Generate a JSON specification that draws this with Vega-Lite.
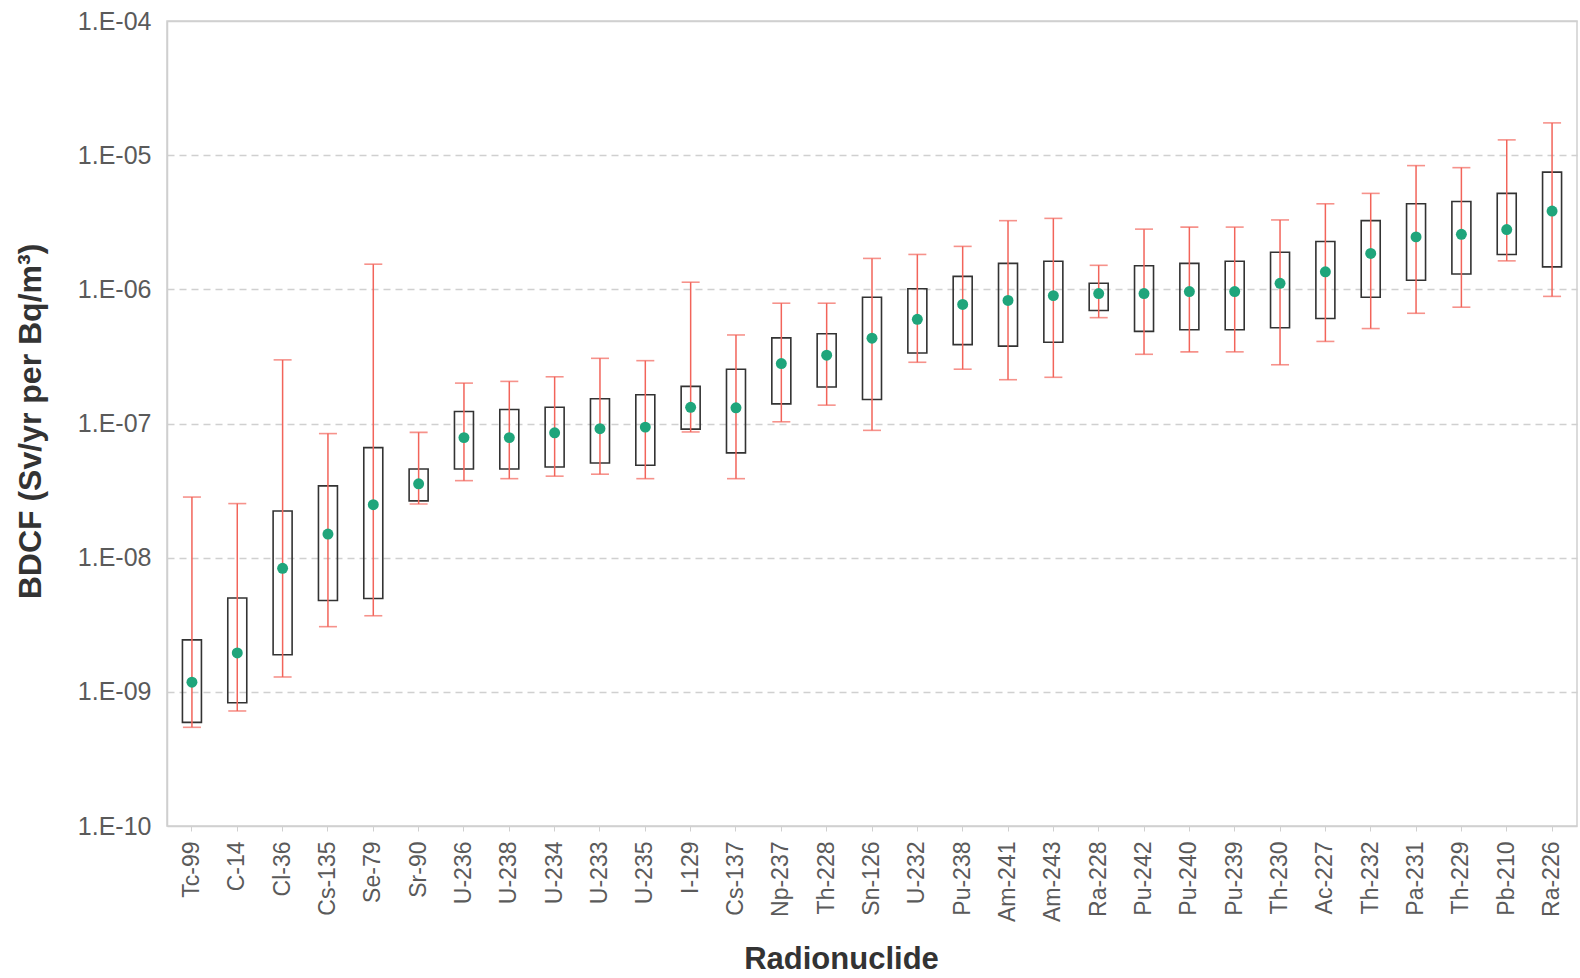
{
  "$schema": "https://vega.github.io/schema/vega-lite/v6.json",
  "autosize": {"type": "none"},
  "width": 1410,
  "height": 805,
  "padding": {"left": 167, "top": 21, "right": 3, "bottom": 152},
  "background": "white",
  "config": {
    "font": "Liberation Sans",
    "view": {"stroke": "#cfcfcf", "strokeWidth": 1.5}
  },
  "data": {
    "values": [
      {"nuclide": "Tc-99", "min": 5.44e-10, "q1": 5.92e-10, "mid": 1.18e-9, "q3": 2.44e-9, "max": 2.83e-8},
      {"nuclide": "C-14", "min": 7.2e-10, "q1": 8.3e-10, "mid": 1.95e-9, "q3": 5.0e-9, "max": 2.53e-8},
      {"nuclide": "Cl-36", "min": 1.29e-9, "q1": 1.89e-9, "mid": 8.33e-9, "q3": 2.23e-8, "max": 2.98e-7},
      {"nuclide": "Cs-135", "min": 3.06e-9, "q1": 4.8e-9, "mid": 1.5e-8, "q3": 3.43e-8, "max": 8.41e-8},
      {"nuclide": "Se-79", "min": 3.69e-9, "q1": 4.96e-9, "mid": 2.48e-8, "q3": 6.61e-8, "max": 1.54e-6},
      {"nuclide": "Sr-90", "min": 2.51e-8, "q1": 2.65e-8, "mid": 3.55e-8, "q3": 4.58e-8, "max": 8.59e-8},
      {"nuclide": "U-236", "min": 3.75e-8, "q1": 4.58e-8, "mid": 7.85e-8, "q3": 1.23e-7, "max": 2.0e-7},
      {"nuclide": "U-238", "min": 3.88e-8, "q1": 4.58e-8, "mid": 7.85e-8, "q3": 1.27e-7, "max": 2.06e-7},
      {"nuclide": "U-234", "min": 4.05e-8, "q1": 4.74e-8, "mid": 8.53e-8, "q3": 1.32e-7, "max": 2.23e-7},
      {"nuclide": "U-233", "min": 4.19e-8, "q1": 5.08e-8, "mid": 9.14e-8, "q3": 1.53e-7, "max": 3.06e-7},
      {"nuclide": "U-235", "min": 3.88e-8, "q1": 4.88e-8, "mid": 9.4e-8, "q3": 1.64e-7, "max": 2.94e-7},
      {"nuclide": "I-129", "min": 8.65e-8, "q1": 9.08e-8, "mid": 1.32e-7, "q3": 1.89e-7, "max": 1.13e-6},
      {"nuclide": "Cs-137", "min": 3.88e-8, "q1": 6.04e-8, "mid": 1.31e-7, "q3": 2.54e-7, "max": 4.57e-7},
      {"nuclide": "Np-237", "min": 1.03e-7, "q1": 1.4e-7, "mid": 2.8e-7, "q3": 4.35e-7, "max": 7.88e-7},
      {"nuclide": "Th-228", "min": 1.37e-7, "q1": 1.87e-7, "mid": 3.23e-7, "q3": 4.66e-7, "max": 7.88e-7},
      {"nuclide": "Sn-126", "min": 8.89e-8, "q1": 1.51e-7, "mid": 4.32e-7, "q3": 8.74e-7, "max": 1.7e-6},
      {"nuclide": "U-232", "min": 2.86e-7, "q1": 3.35e-7, "mid": 5.98e-7, "q3": 1.01e-6, "max": 1.82e-6},
      {"nuclide": "Pu-238", "min": 2.54e-7, "q1": 3.87e-7, "mid": 7.72e-7, "q3": 1.25e-6, "max": 2.09e-6},
      {"nuclide": "Am-241", "min": 2.12e-7, "q1": 3.77e-7, "mid": 8.27e-7, "q3": 1.56e-6, "max": 3.25e-6},
      {"nuclide": "Am-243", "min": 2.21e-7, "q1": 4.03e-7, "mid": 8.98e-7, "q3": 1.62e-6, "max": 3.38e-6},
      {"nuclide": "Ra-228", "min": 6.15e-7, "q1": 6.96e-7, "mid": 9.3e-7, "q3": 1.11e-6, "max": 1.51e-6},
      {"nuclide": "Pu-242", "min": 3.28e-7, "q1": 4.86e-7, "mid": 9.3e-7, "q3": 1.5e-6, "max": 2.81e-6},
      {"nuclide": "Pu-240", "min": 3.42e-7, "q1": 5.0e-7, "mid": 9.63e-7, "q3": 1.56e-6, "max": 2.91e-6},
      {"nuclide": "Pu-239", "min": 3.42e-7, "q1": 5.0e-7, "mid": 9.63e-7, "q3": 1.62e-6, "max": 2.91e-6},
      {"nuclide": "Th-230", "min": 2.74e-7, "q1": 5.17e-7, "mid": 1.11e-6, "q3": 1.89e-6, "max": 3.29e-6},
      {"nuclide": "Ac-227", "min": 4.09e-7, "q1": 6.06e-7, "mid": 1.35e-6, "q3": 2.27e-6, "max": 4.34e-6},
      {"nuclide": "Th-232", "min": 5.1e-7, "q1": 8.74e-7, "mid": 1.85e-6, "q3": 3.25e-6, "max": 5.19e-6},
      {"nuclide": "Pa-231", "min": 6.63e-7, "q1": 1.17e-6, "mid": 2.46e-6, "q3": 4.34e-6, "max": 8.36e-6},
      {"nuclide": "Th-229", "min": 7.36e-7, "q1": 1.3e-6, "mid": 2.57e-6, "q3": 4.52e-6, "max": 8.07e-6},
      {"nuclide": "Pb-210", "min": 1.63e-6, "q1": 1.82e-6, "mid": 2.79e-6, "q3": 5.19e-6, "max": 1.3e-5},
      {"nuclide": "Ra-226", "min": 8.86e-7, "q1": 1.47e-6, "mid": 3.83e-6, "q3": 7.48e-6, "max": 1.74e-5}
    ]
  },
  "encoding": {
    "x": {
      "field": "nuclide",
      "type": "nominal",
      "sort": null,
      "scale": {"paddingInner": 0, "paddingOuter": 0.05},
      "axis": {
        "title": "Radionuclide",
        "titleFont": "Liberation Sans",
        "titleFontSize": 31,
        "titleFontWeight": "bold",
        "titleColor": "#333333",
        "titleX": 674,
        "titleY": 142,
        "titleBaseline": "alphabetic",
        "titleAlign": "center",
        "labelAngle": 270,
        "labelFontSize": 23,
        "labelColor": "#5a5a5a",
        "labelPadding": 10,
        "ticks": true,
        "tickSize": 5,
        "tickColor": "#d0d0d0",
        "domain": false,
        "grid": false
      }
    }
  },
  "layer": [
    {
      "mark": {"type": "bar", "size": 19, "fill": "white", "fillOpacity": 0, "stroke": "#333333", "strokeWidth": 1.6},
      "encoding": {
        "y": {
          "field": "q1",
          "type": "quantitative",
          "scale": {"type": "log", "domain": [1e-10, 1e-4], "nice": false},
          "axis": {
            "title": "BDCF (Sv/yr per Bq/m³)",
            "titleFont": "Liberation Sans",
            "titleFontSize": 32,
            "titleFontWeight": "bold",
            "titleColor": "#333333",
            "titleX": -137,
            "titleY": 400,
            "titleAngle": 270,
            "titleBaseline": "middle",
            "titleAlign": "center",
            "values": [1e-10, 1e-9, 1e-8, 1e-7, 1e-6, 1e-5, 1e-4],
            "labelExpr": "'1.E-' + (round(-log(datum.value)/LN10) < 10 ? '0' : '') + round(-log(datum.value)/LN10)",
            "labelFontSize": 25,
            "labelColor": "#5a5a5a",
            "labelPadding": 16,
            "ticks": false,
            "domain": true,
            "domainColor": "#cfcfcf",
            "domainWidth": 1.5,
            "grid": true,
            "gridColor": "#d0d0d0",
            "gridWidth": 1.3,
            "gridDash": {"condition": {"test": "datum.value < 2e-10 || datum.value > 5e-5", "value": []}, "value": [7, 5]}
          }
        },
        "y2": {"field": "q3"}
      }
    },
    {
      "mark": {"type": "rule", "color": "#f2645a", "strokeWidth": 1.5},
      "encoding": {
        "y": {"field": "min", "type": "quantitative"},
        "y2": {"field": "max"}
      }
    },
    {
      "mark": {"type": "tick", "color": "#f2645a", "size": 18, "thickness": 1.6},
      "encoding": {"y": {"field": "min", "type": "quantitative"}}
    },
    {
      "mark": {"type": "tick", "color": "#f2645a", "size": 18, "thickness": 1.6},
      "encoding": {"y": {"field": "max", "type": "quantitative"}}
    },
    {
      "mark": {"type": "point", "filled": true, "color": "#1fa57b", "size": 120, "opacity": 1},
      "encoding": {"y": {"field": "mid", "type": "quantitative"}}
    }
  ]
}
